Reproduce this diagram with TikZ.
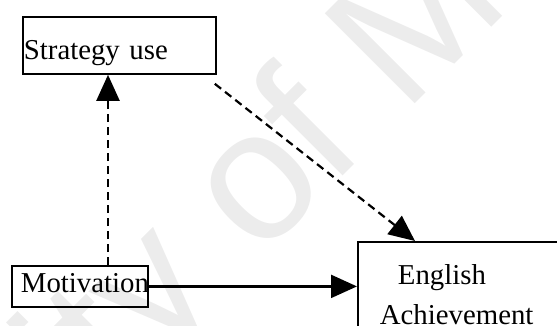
\documentclass[tikz,border=0pt]{standalone}
\usepackage{fontspec}
\setmainfont{Liberation Serif}
\newfontfamily\wmfont{Liberation Sans}
\usetikzlibrary{arrows.meta,calc}
\definecolor{wmgray}{RGB}{236,236,236}
\tikzset{
  box/.style={draw, line width=1.8pt, rectangle, inner sep=0pt, align=left,
              font=\fontsize{28.8}{40}\selectfont},
  link/.style={line width=2.2pt, -{Triangle[length=26pt,width=23pt]}},
  dashlink/.style={link, dash pattern=on 8pt off 5pt},
  watermark/.style={rotate=45, inner sep=0pt, text=wmgray,
                    font=\wmfont\fontsize{185}{185}\selectfont},
}
\begin{document}
\begin{tikzpicture}[x=1pt,y=-1pt]
\useasboundingbox (0,0) rectangle (557,325);
\clip (0,0) rectangle (557,325);
% background watermark
\node[watermark, anchor=base east] (wm) at (405,114) {University of \rlap{Malaya}};
% boxes
\node[box, anchor=north west, text width=193pt, text height=43pt, text depth=14pt]
  (strat) at (22,16) {\hspace*{1pt}\mbox{Strategy use}};
\node[box, anchor=north west, text width=136pt, text height=26.7pt, text depth=14.3pt]
  (mot) at (11,265) {\hspace*{9pt}\mbox{Motivation}};
\node[box, anchor=north west, text width=240pt, text height=43pt, text depth=100pt]
  (eng) at (357,241) {\hspace*{40pt}\mbox{English}\\\hspace*{22pt}\mbox{Achievement}};
% paths
\draw[dashlink] ($(mot.north west)+(97,0)$) -- ($(strat.south west)+(86,0)$);
\draw[dashlink] ($(strat.south east)+(-2,9)$) -- ($(eng.north west)+(58,0)$);
\draw[link] (mot.east) -- (mot.east -| eng.west);
\end{tikzpicture}
\end{document}
